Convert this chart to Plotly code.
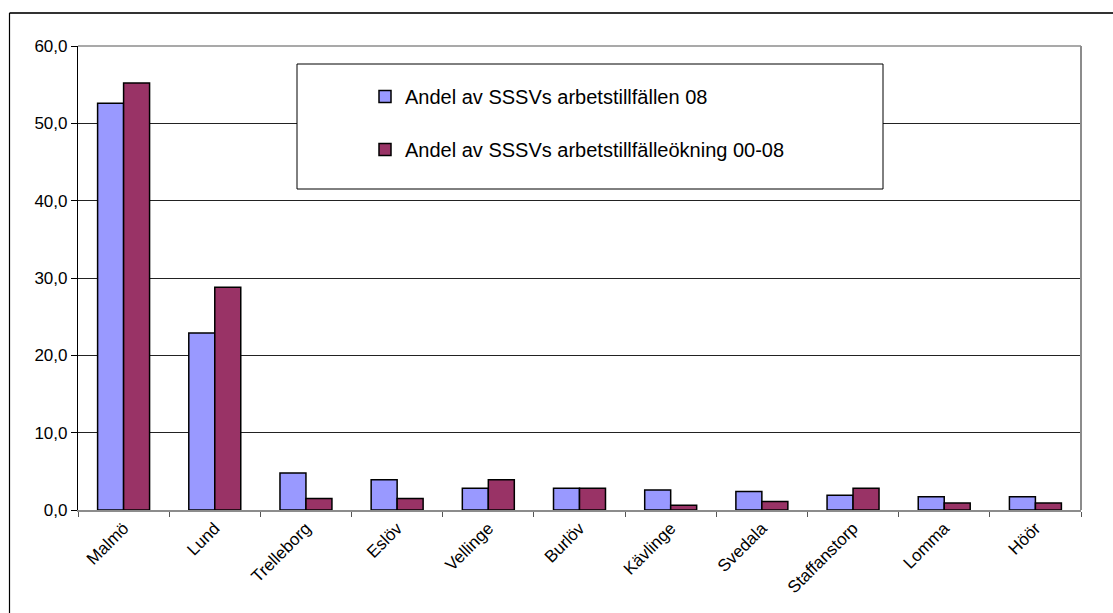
import plotly.graph_objects as go

categories = ["Malmö", "Lund", "Trelleborg", "Eslöv", "Vellinge", "Burlöv",
              "Kävlinge", "Svedala", "Staffanstorp", "Lomma", "Höör"]
share_jobs_08 = [52.6, 22.9, 4.8, 3.9, 2.8, 2.8, 2.6, 2.4, 1.9, 1.7, 1.7]
share_growth_00_08 = [55.2, 28.8, 1.5, 1.5, 3.9, 2.8, 0.6, 1.1, 2.8, 0.9, 0.9]
series_names = ["Andel av SSSVs arbetstillfällen 08",
                "Andel av SSSVs arbetstillfälleökning 00-08"]
y_ticks = [0, 10, 20, 30, 40, 50, 60]

W, H = 1113, 613
L, R, T, B = 78, 1081, 46, 510
pw, ph = R - L, B - T


def px(x):
    return (x - L) / pw


def py(y):
    return (B - y) / ph


fig = go.Figure()
fig.add_trace(go.Bar(x=categories, y=share_jobs_08, name=series_names[0],
                     marker=dict(color="#9999FF", line=dict(color="#000000", width=1.5)),
                     legendgroup="a"))
fig.add_trace(go.Bar(x=categories, y=share_growth_00_08, name=series_names[1],
                     marker=dict(color="#993366", line=dict(color="#000000", width=1.5)),
                     legendgroup="b"))

shapes = [
    # legend box
    dict(type="rect", xref="paper", yref="paper", x0=px(297), x1=px(883), y0=py(189), y1=py(64),
         line=dict(color="#000000", width=1), fillcolor="white", layer="above"),
    # plot area top and right border (gray)
    dict(type="line", xref="paper", yref="paper", x0=0, x1=1, y0=1, y1=1,
         line=dict(color="#8c8c8c", width=1.5), layer="above"),
    dict(type="line", xref="paper", yref="paper", x0=1, x1=1, y0=0, y1=1,
         line=dict(color="#8c8c8c", width=2), layer="above"),
    # outer frame
    dict(type="line", xref="paper", yref="paper", x0=px(9.5), x1=px(W + 5), y0=py(13), y1=py(13),
         line=dict(color="#333333", width=2)),
    dict(type="line", xref="paper", yref="paper", x0=px(9.5), x1=px(9.5), y0=py(13), y1=py(H + 5),
         line=dict(color="#000000", width=1.2)),
]

fig.update_layout(
    width=W, height=H,
    margin=dict(l=L, r=W - R, t=T, b=H - B, pad=0),
    paper_bgcolor="white", plot_bgcolor="white",
    font=dict(family="Liberation Sans, Arial, sans-serif", size=17, color="#000000"),
    separators=",.",
    barmode="group", bargap=0.43, bargroupgap=0.0,
    shapes=shapes,
    showlegend=True,
    legend=dict(x=px(365), y=py(77), xanchor="left", yanchor="top",
                bgcolor="rgba(0,0,0,0)", borderwidth=0,
                font=dict(size=20, family="Liberation Sans, Arial, sans-serif"),
                tracegroupgap=24, traceorder="grouped"),
    xaxis=dict(type="category", showline=True, linecolor="#8c8c8c", linewidth=1.5,
               ticks="outside", tickson="boundaries", ticklen=5, tickcolor="#555555",
               tickangle=-45, showgrid=False, tickfont=dict(size=17)),
    yaxis=dict(range=[0, 60], tickvals=y_ticks, tickformat=".1f",
               showline=True, linecolor="#000000", linewidth=1.2,
               ticks="outside", ticklen=6, tickcolor="#000000",
               showgrid=True, gridcolor="#222222", gridwidth=1,
               zeroline=False, tickfont=dict(size=17)),
)

fig.write_html("out.html", config={"displayModeBar": False},
               post_script="document.body.style.margin='0';document.body.style.padding='0';")
